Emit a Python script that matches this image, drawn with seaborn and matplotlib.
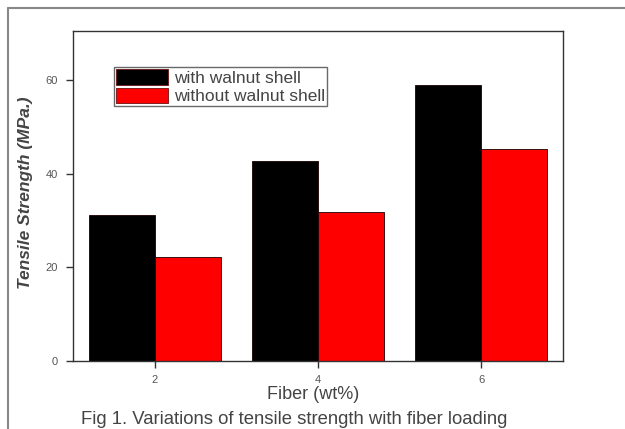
import matplotlib
matplotlib.use("Agg")
import matplotlib.pyplot as plt
import seaborn as sns
import pandas as pd
from matplotlib.lines import Line2D

# Tensile strength (MPa) for each fiber loading
fiber_wt = ["2", "4", "6"]
with_walnut = [31.2, 42.6, 58.9]
without_walnut = [22.3, 31.7, 45.2]
series_names = ["with walnut shell", "without walnut shell"]
y_ticks = [0, 20, 40, 60]

df = pd.DataFrame({
    "Fiber": fiber_wt * 2,
    "Strength": with_walnut + without_walnut,
    "Series": [series_names[0]] * 3 + [series_names[1]] * 3,
})

sns.set_theme(style="white")
plt.rcParams["font.family"] = ["Liberation Sans", "DejaVu Sans"]

fig = plt.figure(figsize=(6.25, 4.29), dpi=100)
ax = fig.add_axes([0.1168, 0.1585, 0.9008 - 0.1168, 0.9284 - 0.1585])

sns.barplot(
    data=df, x="Fiber", y="Strength", hue="Series",
    palette=["#000000", "#ff0000"], width=0.81, ax=ax,
    edgecolor="#1a0000", linewidth=0.6, saturation=1,
)

ax.set_xlim(-0.5, 2.5)
ax.set_ylim(0, 70.5)
ax.set_yticks(y_ticks)
ax.tick_params(axis="both", which="major", bottom=True, left=True,
               direction="out", length=5, width=1.0, color="#333333",
               labelsize=8, labelcolor="#555555")
ax.tick_params(axis="x", pad=5)
ax.tick_params(axis="y", pad=6)
for s in ax.spines.values():
    s.set_color("#333333")
    s.set_linewidth(1.0)

ax.set_xlabel("Fiber (wt%)", fontsize=13, color="#444444")
ax.xaxis.set_label_coords(0.49, -0.075)
ax.set_ylabel("Tensile Strength (MPa.)", fontsize=12.5, fontweight="bold",
              fontstyle="italic", color="#444444")
ax.yaxis.set_label_coords(-0.082, 0.51)

leg = ax.legend(loc="upper left", bbox_to_anchor=(0.084, 0.89), frameon=True,
                fontsize=12.5, handlelength=3.0, handleheight=1.0,
                handletextpad=0.3, borderpad=0.12, labelspacing=0.1,
                fancybox=False, borderaxespad=0)
leg.get_frame().set_edgecolor("#444444")
leg.get_frame().set_linewidth(1.0)
for t in leg.get_texts():
    t.set_color("#444444")
for h in leg.legend_handles:
    h.set_edgecolor("#6b1010")

fig.text(0.47, 1 - 419 / 429, "Fig 1. Variations of tensile strength with fiber loading",
         ha="center", va="center", fontsize=13.3, color="#444444")

# Outer page frame (left and top edges)
fig.add_artist(Line2D([8 / 625, 8 / 625], [0, 1 - 8 / 429],
                      transform=fig.transFigure, color="#888888", lw=1.5))
fig.add_artist(Line2D([8 / 625, 1], [1 - 8 / 429, 1 - 8 / 429],
                      transform=fig.transFigure, color="#888888", lw=1.5))

fig.savefig("out.png", dpi=100)
